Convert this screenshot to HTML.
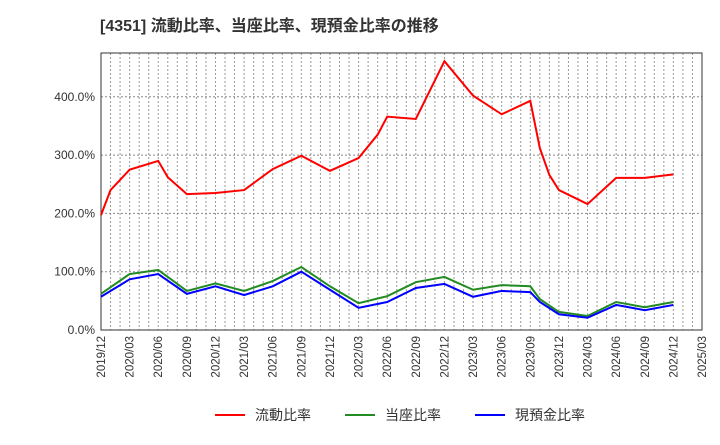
<!DOCTYPE html>
<html><head><meta charset="utf-8"><style>
body{margin:0;background:#fff;width:720px;height:440px;overflow:hidden;font-family:"Liberation Sans","Noto Sans CJK JP",sans-serif}
</style></head><body>
<svg id="c" width="720" height="440" xmlns="http://www.w3.org/2000/svg">
<text x="100" y="31" font-size="16" font-weight="bold" fill="#333" font-family="Liberation Sans,Noto Sans CJK JP,sans-serif">[4351]  流動比率、当座比率、現預金比率の推移</text>
</svg>
<script>
const ticks=["2019/12","2020/03","2020/06","2020/09","2020/12","2021/03","2021/06","2021/09","2021/12","2022/03","2022/06","2022/09","2022/12","2023/03","2023/06","2023/09","2023/12","2024/03","2024/06","2024/09","2024/12","2025/03"];
const yTicks=[0,100,200,300,400];
const redMonths=[0,1,3,6,7,9,12,15,18,21,24,27,29,30,33,36,39,42,45,46,47,48,51,54,57,60];
const redValues=[197,240,275,290,262,233,235,240,276,299,273,295,335,366,362,461,402,370,393,312,266,240,216,261,261,267];
const greenMonths=[0,3,6,9,12,15,18,21,24,27,30,33,36,39,42,45,46,48,51,54,57,60];
const greenValues=[62,96,103,67,80,67,84,108,75,46,58,82,91,69,77,75,53,31,24,48,39,48];
const blueMonths=[0,3,6,9,12,15,18,21,24,27,30,33,36,39,42,45,46,48,51,54,57,60];
const blueValues=[57,87,96,62,75,60,75,100,69,38,48,72,79,57,67,65,48,27,21,43,34,43];
const L=101,R=702,T=53,B=330;
const xs=m=>L+(R-L)*m/63, ys=v=>B-v*0.583;
const svg=document.getElementById('c');const NS="http://www.w3.org/2000/svg";
function mk(t,a){const e=document.createElementNS(NS,t);for(const k in a)e.setAttribute(k,a[k]);svg.appendChild(e);return e;}
for(let m=1;m<63;m++){const g=mk('line',{x1:xs(m),x2:xs(m),y1:T,y2:B,stroke:'#999','stroke-dasharray':'2,2','stroke-width':1});

}
yTicks.forEach(v=>{if(v>0){const g=mk('line',{x1:L,x2:R,y1:ys(v),y2:ys(v),stroke:'#888','stroke-dasharray':'2,2'});

}
const t=mk('text',{x:L-6,y:ys(v)+4,'text-anchor':'end','font-size':12,fill:'#333'});t.textContent=v.toFixed(1)+'%';

});
const fr=mk('rect',{x:L,y:T,width:R-L,height:B-T,fill:'none',stroke:'#333'});


ticks.forEach((s,i)=>{const x=xs(i*3);const t=mk('text',{transform:`translate(${x+4},${B+6}) rotate(-90)`,'text-anchor':'end','font-size':11.5,fill:'#333'});t.textContent=s;

});
function line(ms,vs,c,n){const p=mk('polyline',{points:ms.map((m,i)=>xs(m)+','+ys(vs[i])).join(' '),fill:'none',stroke:c,'stroke-width':2});

}
line(greenMonths,greenValues,'#228B22','quick-ratio-line');
line(blueMonths,blueValues,'#0000ff','cash-ratio-line');
line(redMonths,redValues,'#ff0000','current-ratio-line');
[['流動比率','#ff0000',215],['当座比率','#228B22',345],['現預金比率','#0000ff',475]].forEach(([n,c,x])=>{
const g=mk('g',{});

const l=document.createElementNS(NS,'line');l.setAttribute('x1',x);l.setAttribute('x2',x+30);l.setAttribute('y1',415);l.setAttribute('y2',415);l.setAttribute('stroke',c);l.setAttribute('stroke-width',2);g.appendChild(l);
const t=document.createElementNS(NS,'text');t.setAttribute('x',x+40);t.setAttribute('y',420);t.setAttribute('font-size',14);t.setAttribute('fill','#333');t.textContent=n;g.appendChild(t);});
</script>
</body></html>
